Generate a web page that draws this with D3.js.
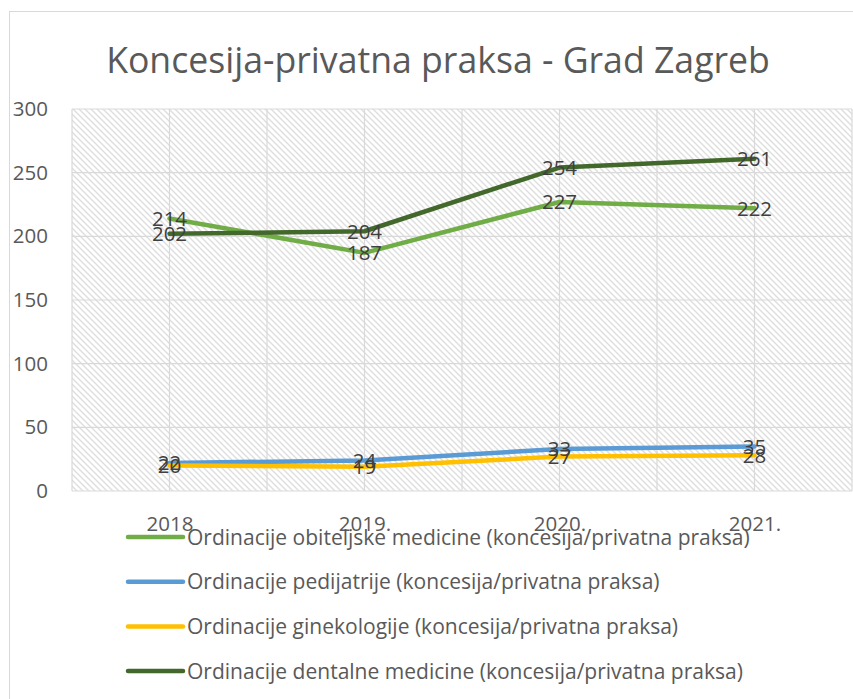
<!DOCTYPE html>
<html>
<head>
<meta charset="utf-8">
<script src="https://cdn.jsdelivr.net/npm/d3@7"></script>
<style>
  body { margin: 0; background: #fff; }
  svg { display: block; font-family: "Open Sans", "Noto Sans", sans-serif; }
</style>
</head>
<body>
<svg id="chart" width="853" height="699"></svg>
<script>
var years = ["2018", "2019.", "2020.", "2021."];
var obiteljske = [214, 187, 227, 222];
var pedijatrije = [22, 24, 33, 35];
var ginekologije = [20, 19, 27, 28];
var dentalne = [202, 204, 254, 261];
var yTicks = [0, 50, 100, 150, 200, 250, 300];

var series = [
    { name: "Ordinacije obiteljske medicine (koncesija/privatna praksa)", values: obiteljske, color: "#70ad47" },
    { name: "Ordinacije pedijatrije (koncesija/privatna praksa)", values: pedijatrije, color: "#5b9bd5" },
    { name: "Ordinacije ginekologije (koncesija/privatna praksa)", values: ginekologije, color: "#ffc000" },
    { name: "Ordinacije dentalne medicine (koncesija/privatna praksa)", values: dentalne, color: "#43682b" }
];

var svg = d3.select("#chart");
var plot = { left: 72, right: 852, top: 109, bottom: 491 };

// shrink text to a given width (fonts differ from the original)
function fitWidth(sel, w) {
    var len = sel.node().getComputedTextLength();
    var fs = parseFloat(sel.attr("font-size"));
    sel.attr("font-size", (fs * w / len).toFixed(2));
}

// outer chart border
svg.append("rect")
    .attr("x", 9.5).attr("y", 11.5)
    .attr("width", 900).attr("height", 800)
    .attr("fill", "none").attr("stroke", "#d9d9d9");

var defs = svg.append("defs");
defs.append("pattern")
    .attr("id", "hatch")
    .attr("patternUnits", "userSpaceOnUse")
    .attr("width", 6).attr("height", 6)
    .append("path")
    .attr("d", "M-1,-1L7,7M-1,5L1,7M5,-1L7,1")
    .attr("stroke", "#dedede").attr("stroke-width", 1.4);

var x = d3.scalePoint().domain(years).range([plot.left, plot.right]).padding(0.5);
var band = d3.scaleBand().domain(years).range([plot.left, plot.right]);
var y = d3.scaleLinear().domain([0, 300]).range([plot.bottom, plot.top]);

svg.append("rect")
    .attr("x", plot.left).attr("y", plot.top)
    .attr("width", plot.right - plot.left).attr("height", plot.bottom - plot.top)
    .attr("fill", "url(#hatch)");

// gridlines
var half = band.step() / 2;
var vLines = d3.range(0, years.length * 2 + 1).map(function(i) { return plot.left + i * half; });
svg.append("g").selectAll("line").data(vLines).enter().append("line")
    .attr("x1", function(d) { return d; }).attr("x2", function(d) { return d; })
    .attr("y1", plot.top).attr("y2", plot.bottom)
    .attr("stroke", "#d9d9d9").attr("stroke-width", 1.2);

svg.append("g").selectAll("line").data(yTicks).enter().append("line")
    .attr("x1", plot.left).attr("x2", plot.right)
    .attr("y1", function(d) { return y(d); }).attr("y2", function(d) { return y(d); })
    .attr("stroke", "#d9d9d9").attr("stroke-width", 1.2);

// y axis labels
var yAxis = svg.append("g")
    .attr("transform", "translate(48,0)")
    .call(d3.axisLeft(y).tickValues(yTicks).tickSize(0).tickPadding(0));
yAxis.select(".domain").remove();
yAxis.selectAll("text")
    .attr("font-size", 20.5).attr("font-family", "Open Sans").attr("fill", "#595959");

// x axis labels
var xAxis = svg.append("g")
    .attr("transform", "translate(0,516)")
    .call(d3.axisBottom(x).tickSize(0).tickPadding(0));
xAxis.select(".domain").remove();
xAxis.selectAll("text")
    .attr("font-size", 20.5).attr("font-family", "Open Sans").attr("fill", "#595959");

// lines
var line = d3.line()
    .x(function(d, i) { return x(years[i]); })
    .y(function(d) { return y(d); });

svg.append("g").selectAll("path").data(series).enter().append("path")
    .attr("d", function(s) { return line(s.values); })
    .attr("fill", "none")
    .attr("stroke", function(s) { return s.color; })
    .attr("stroke-width", 4.5)
    .attr("stroke-linejoin", "round")
    .attr("stroke-linecap", "round");

// data labels
series.forEach(function(s) {
    svg.append("g").selectAll("text").data(s.values).enter().append("text")
        .attr("x", function(d, i) { return x(years[i]); })
        .attr("y", function(d) { return y(d); })
        .attr("dy", "0.36em")
        .attr("text-anchor", "middle")
        .attr("font-size", 20.5)
        .attr("fill", "#404040")
        .text(function(d) { return d; });
});

// title
var title = svg.append("text")
    .attr("x", 438).attr("y", 73)
    .attr("text-anchor", "middle")
    .attr("font-size", 40)
    .attr("fill", "#595959")
    .text("Koncesija-privatna praksa - Grad Zagreb");
fitWidth(title, 664);

// legend
var legend = svg.append("g").selectAll("g").data(series).enter().append("g")
    .attr("transform", function(d, i) { return "translate(128," + (537 + i * 44.7) + ")"; });
legend.append("line")
    .attr("x1", 0).attr("x2", 55)
    .attr("stroke", function(s) { return s.color; })
    .attr("stroke-width", 4.5)
    .attr("stroke-linecap", "round");
var legText = legend.append("text")
    .attr("x", 59).attr("dy", "0.36em")
    .attr("font-size", 20)
    .attr("fill", "#595959")
    .text(function(s) { return s.name; });
var first = d3.select(legText.nodes()[0]);
fitWidth(first, 563);
legText.attr("font-size", first.attr("font-size"));
</script>
</body>
</html>
